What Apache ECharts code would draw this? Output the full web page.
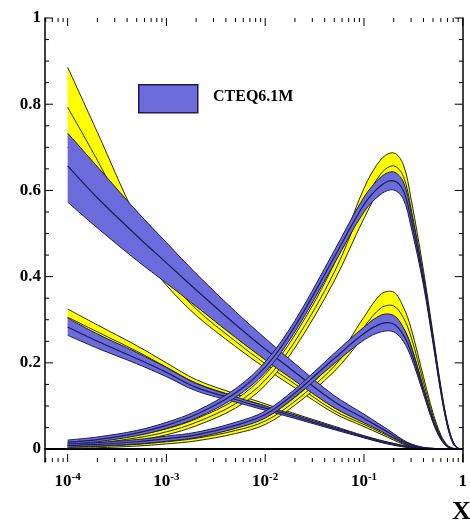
<!DOCTYPE html>
<html>
<head>
<meta charset="utf-8">
<script src="https://cdn.jsdelivr.net/npm/echarts@6/dist/echarts.min.js"></script>
<style>html,body{margin:0;padding:0;background:#fff}#chart{width:470px;height:524px}</style>
</head>
<body>
<div id="chart"></div>
<script>
// x grid (momentum fraction)
const xs = [1e-4, 2e-4, 5e-4, 1e-3, 2e-3, 5e-3, 0.01, 0.02, 0.05, 0.1, 0.15, 0.2, 0.25, 0.3, 0.4, 0.5, 0.6, 0.7, 0.8, 0.9, 1];

// gluon
const gBlueLo  = [0.573, 0.513, 0.438, 0.385, 0.331, 0.259, 0.207, 0.158, 0.096, 0.061, 0.041, 0.026, 0.015, 0.008, 0.002, 0, 0, 0, 0, 0, 0];
const gBlueMid = [0.657, 0.583, 0.495, 0.432, 0.369, 0.289, 0.232, 0.178, 0.11, 0.071, 0.048, 0.031, 0.018, 0.01, 0.003, 0.001, 0, 0, 0, 0, 0];
const gBlueHi  = [0.733, 0.655, 0.552, 0.479, 0.407, 0.319, 0.257, 0.198, 0.124, 0.081, 0.055, 0.036, 0.021, 0.012, 0.004, 0.002, 0, 0, 0, 0, 0];
const gYelLo   = [0.70, 0.605, 0.465, 0.38, 0.31, 0.238, 0.188, 0.142, 0.083, 0.052, 0.034, 0.021, 0.011, 0.006, 0.001, 0, 0, 0, 0, 0, 0];
const gYelMid  = [0.793, 0.67, 0.50, 0.402, 0.325, 0.25, 0.198, 0.151, 0.089, 0.057, 0.038, 0.024, 0.013, 0.007, 0.002, 0.001, 0, 0, 0, 0, 0];
const gYelHi   = [0.886, 0.735, 0.535, 0.425, 0.34, 0.262, 0.208, 0.16, 0.096, 0.062, 0.042, 0.027, 0.015, 0.009, 0.003, 0.001, 0, 0, 0, 0, 0];

// sea
const sBlueLo  = [0.264, 0.234, 0.198, 0.168, 0.135, 0.109, 0.09, 0.071, 0.045, 0.026, 0.015, 0.009, 0.005, 0.003, 0.001, 0, 0, 0, 0, 0, 0];
const sBlueMid = [0.283, 0.25, 0.21, 0.178, 0.143, 0.115, 0.095, 0.075, 0.048, 0.028, 0.017, 0.011, 0.007, 0.004, 0.001, 0, 0, 0, 0, 0, 0];
const sBlueHi  = [0.304, 0.267, 0.224, 0.189, 0.152, 0.121, 0.1, 0.079, 0.051, 0.03, 0.019, 0.013, 0.008, 0.005, 0.002, 0.001, 0, 0, 0, 0, 0];
const sYelLo   = [0.29, 0.258, 0.215, 0.18, 0.145, 0.116, 0.095, 0.074, 0.047, 0.027, 0.016, 0.01, 0.006, 0.003, 0.001, 0, 0, 0, 0, 0, 0];
const sYelMid  = [0.306, 0.272, 0.227, 0.19, 0.153, 0.122, 0.1, 0.078, 0.05, 0.029, 0.018, 0.011, 0.007, 0.004, 0.001, 0, 0, 0, 0, 0, 0];
const sYelHi   = [0.325, 0.288, 0.24, 0.2, 0.161, 0.128, 0.105, 0.082, 0.053, 0.031, 0.02, 0.013, 0.008, 0.005, 0.002, 0, 0, 0, 0, 0, 0];

// u valence
const uBlueLo  = [0.011, 0.017, 0.031, 0.048, 0.072, 0.12, 0.178, 0.272, 0.43, 0.55, 0.592, 0.601, 0.58, 0.515, 0.38, 0.245, 0.13, 0.052, 0.012, 0.001, 0];
const uBlueMid = [0.016, 0.022, 0.037, 0.055, 0.08, 0.13, 0.19, 0.285, 0.445, 0.567, 0.612, 0.622, 0.60, 0.532, 0.39, 0.252, 0.135, 0.055, 0.014, 0.0015, 0];
const uBlueHi  = [0.021, 0.028, 0.043, 0.062, 0.088, 0.14, 0.202, 0.298, 0.46, 0.584, 0.632, 0.643, 0.62, 0.55, 0.40, 0.259, 0.14, 0.058, 0.016, 0.002, 0];
const uYelLo   = [0.004, 0.009, 0.02, 0.033, 0.054, 0.095, 0.148, 0.235, 0.39, 0.535, 0.607, 0.628, 0.605, 0.535, 0.39, 0.252, 0.135, 0.056, 0.014, 0.0015, 0];
const uYelMid  = [0.009, 0.014, 0.026, 0.04, 0.062, 0.105, 0.16, 0.25, 0.41, 0.57, 0.64, 0.657, 0.633, 0.557, 0.402, 0.26, 0.14, 0.059, 0.015, 0.002, 0];
const uYelHi   = [0.014, 0.02, 0.032, 0.047, 0.07, 0.115, 0.173, 0.265, 0.43, 0.605, 0.673, 0.687, 0.66, 0.58, 0.415, 0.268, 0.146, 0.062, 0.017, 0.002, 0];

// d valence
const dBlueLo  = [0.004, 0.007, 0.012, 0.018, 0.027, 0.048, 0.072, 0.121, 0.198, 0.253, 0.272, 0.272, 0.25, 0.213, 0.128, 0.061, 0.022, 0.005, 0.001, 0, 0];
const dBlueMid = [0.008, 0.011, 0.017, 0.024, 0.033, 0.055, 0.08, 0.13, 0.21, 0.268, 0.291, 0.29, 0.265, 0.225, 0.135, 0.065, 0.024, 0.006, 0.001, 0, 0];
const dBlueHi  = [0.012, 0.015, 0.022, 0.03, 0.039, 0.062, 0.088, 0.139, 0.222, 0.283, 0.311, 0.31, 0.282, 0.238, 0.142, 0.069, 0.026, 0.007, 0.001, 0, 0];
const dYelLo   = [0.001, 0.003, 0.007, 0.012, 0.019, 0.036, 0.057, 0.102, 0.18, 0.26, 0.296, 0.3, 0.28, 0.24, 0.142, 0.07, 0.027, 0.007, 0.001, 0, 0];
const dYelMid  = [0.004, 0.006, 0.011, 0.017, 0.025, 0.043, 0.065, 0.111, 0.192, 0.283, 0.328, 0.332, 0.305, 0.26, 0.155, 0.077, 0.03, 0.008, 0.001, 0, 0];
const dYelHi   = [0.007, 0.01, 0.015, 0.022, 0.031, 0.05, 0.073, 0.12, 0.204, 0.306, 0.36, 0.364, 0.33, 0.28, 0.168, 0.084, 0.033, 0.009, 0.002, 0, 0];

// axis ticks
const xMajor = [1e-4, 1e-3, 1e-2, 1e-1, 1];
const xMinor = [6e-5, 7e-5, 8e-5, 9e-5,
  2e-4, 3e-4, 4e-4, 5e-4, 6e-4, 7e-4, 8e-4, 9e-4,
  2e-3, 3e-3, 4e-3, 5e-3, 6e-3, 7e-3, 8e-3, 9e-3,
  0.02, 0.03, 0.04, 0.05, 0.06, 0.07, 0.08, 0.09,
  0.2, 0.3, 0.4, 0.5, 0.6, 0.7, 0.8, 0.9];
const yMajor = [0, 0.2, 0.4, 0.6, 0.8, 1];
const yMinor = [0.05, 0.1, 0.15, 0.25, 0.3, 0.35, 0.45, 0.5, 0.55, 0.65, 0.7, 0.75, 0.85, 0.9, 0.95];

const serif = "'Liberation Serif', 'Times New Roman', serif";
const YELLOW = '#ffff00';
const BLUE = '#6b6bdc';
const EDGE_Y = '#2a2a00';
const EDGE_B = '#1c1c50';
const SM = 0.35;

// bezier control points for an open smooth curve through pixel points
function controls(p) {
  const n = p.length, c0 = [], c1 = [];
  for (let i = 0; i < n; i++) {
    if (i === 0 || i === n - 1) { c0[i] = p[i]; c1[i] = p[i]; continue; }
    const vx = (p[i + 1][0] - p[i - 1][0]) * SM;
    const vy = (p[i + 1][1] - p[i - 1][1]) * SM;
    let d0 = Math.hypot(p[i][0] - p[i - 1][0], p[i][1] - p[i - 1][1]);
    let d1 = Math.hypot(p[i + 1][0] - p[i][0], p[i + 1][1] - p[i][1]);
    const s = d0 + d1;
    if (s) { d0 /= s; d1 /= s; }
    c0[i] = [p[i][0] - vx * d0, p[i][1] - vy * d0];
    c1[i] = [p[i][0] + vx * d1, p[i][1] + vy * d1];
  }
  return [c0, c1];
}
const f = q => q[0].toFixed(2) + ' ' + q[1].toFixed(2);
function forward(p) {
  const [c0, c1] = controls(p);
  let s = '';
  for (let i = 0; i < p.length - 1; i++) s += ' C' + f(c1[i]) + ' ' + f(c0[i + 1]) + ' ' + f(p[i + 1]);
  return s;
}
function backward(p) {
  const [c0, c1] = controls(p);
  let s = '';
  for (let i = p.length - 1; i > 0; i--) s += ' C' + f(c0[i]) + ' ' + f(c1[i - 1]) + ' ' + f(p[i - 1]);
  return s;
}

// one custom series per band: fill between lo/hi, edges and central line
function band(name, lo, mid, hi, fill, edge, midWidth) {
  return {
    type: 'custom', name: name, clip: true,
    data: xs.map((x, i) => [x, lo[i], hi[i], mid[i]]),
    encode: { x: 0, y: [1, 2] },
    renderItem: function (params, api) {
      if (params.dataIndexInside !== 0) return null;
      const n = params.dataInsideLength;
      const pLo = [], pHi = [], pMid = [];
      for (let i = 0; i < n; i++) {
        const x = api.value(0, i);
        pLo.push(api.coord([x, api.value(1, i)]));
        pHi.push(api.coord([x, api.value(2, i)]));
        pMid.push(api.coord([x, api.value(3, i)]));
      }
      const area = 'M' + f(pLo[0]) + forward(pLo) + ' L' + f(pHi[n - 1]) + backward(pHi) + ' Z';
      const line = (pts, w) => ({
        type: 'path', shape: { pathData: 'M' + f(pts[0]) + forward(pts) },
        style: { fill: null, stroke: edge, lineWidth: w }
      });
      return {
        type: 'group',
        children: [
          { type: 'path', shape: { pathData: area }, style: { fill: fill, stroke: null } },
          line(pLo, 1), line(pHi, 1), line(pMid, midWidth)
        ]
      };
    }
  };
}

// tick marks on all four sides, placed through the axes
function tickSeries(values, len, dir) {
  return {
    type: 'custom', silent: true, clip: false,
    data: values.map(v => dir === 'x' ? [v, 0.5] : [1e-2, v]),
    encode: { x: 0, y: 1 },
    renderItem: function (params, api) {
      const cs = params.coordSys;
      const st = { stroke: '#000', lineWidth: 1 };
      if (dir === 'x') {
        const px = api.coord([api.value(0), 0.5])[0];
        const b = cs.y + cs.height, t = cs.y;
        return { type: 'group', children: [
          { type: 'line', shape: { x1: px, y1: b, x2: px, y2: b - len }, style: st },
          { type: 'line', shape: { x1: px, y1: t, x2: px, y2: t + len }, style: st }
        ] };
      }
      const py = api.coord([1e-2, api.value(1)])[1];
      const l = cs.x, r = cs.x + cs.width;
      return { type: 'group', children: [
        { type: 'line', shape: { x1: l, y1: py, x2: l + len, y2: py }, style: st },
        { type: 'line', shape: { x1: r, y1: py, x2: r - len, y2: py }, style: st }
      ] };
    }
  };
}

const zeroLine = {
  type: 'custom', silent: true, clip: true,
  data: [[1e-2, 0]],
  encode: { x: 0, y: 1 },
  renderItem: function (params, api) {
    const cs = params.coordSys;
    const py = api.coord([api.value(0), api.value(1)])[1];
    return { type: 'line', shape: { x1: cs.x, y1: py, x2: cs.x + cs.width, y2: py },
      style: { stroke: '#000', lineWidth: 1.5 } };
  }
};

const series = [
  band('gY', gYelLo, gYelMid, gYelHi, YELLOW, EDGE_Y, 1),
  band('sY', sYelLo, sYelMid, sYelHi, YELLOW, EDGE_Y, 1),
  band('uY', uYelLo, uYelMid, uYelHi, YELLOW, EDGE_Y, 1),
  band('dY', dYelLo, dYelMid, dYelHi, YELLOW, EDGE_Y, 1),
  band('gB', gBlueLo, gBlueMid, gBlueHi, BLUE, EDGE_B, 1.2),
  band('sB', sBlueLo, sBlueMid, sBlueHi, BLUE, EDGE_B, 1.2),
  band('uB', uBlueLo, uBlueMid, uBlueHi, BLUE, EDGE_B, 1.2),
  band('dB', dBlueLo, dBlueMid, dBlueHi, BLUE, EDGE_B, 1.2),
  zeroLine,
  tickSeries(xMajor, 8, 'x'),
  tickSeries(xMinor, 4, 'x'),
  tickSeries(yMajor, 8, 'y'),
  tickSeries(yMinor, 4, 'y')
];

const xMin = 5.9e-5;
const frame = { show: true, lineStyle: { color: '#000', width: 1.5 } };

const myChart = echarts.init(document.getElementById('chart'));
const option = {
  backgroundColor: '#fff',
  animation: false,
  grid: { left: 45, right: 0, top: 18, bottom: 62 },
  xAxis: [
    {
      type: 'log', position: 'bottom', min: xMin, max: 1,
      axisLine: frame, axisTick: { show: false }, splitLine: { show: false },
      axisLabel: {
        customValues: xMajor, margin: 10, color: '#000',
        formatter: function (v) {
          const e = Math.round(Math.log10(v));
          return e === 0 ? '{b|1}' : '{b|10}{s|' + e + '}';
        },
        rich: {
          b: { fontFamily: serif, fontWeight: 'bold', fontSize: 17, color: '#000', lineHeight: 20 },
          s: { fontFamily: serif, fontWeight: 'bold', fontSize: 11, color: '#000', verticalAlign: 'top', lineHeight: 12 }
        }
      }
    },
    {
      type: 'log', position: 'top', min: xMin, max: 1,
      axisLine: frame, axisTick: { show: false }, axisLabel: { show: false }, splitLine: { show: false }
    }
  ],
  yAxis: [
    {
      type: 'value', position: 'left', min: -0.03, max: 1,
      axisLine: frame, axisTick: { show: false }, splitLine: { show: false },
      axisLabel: {
        customValues: yMajor, margin: 4, color: '#000',
        fontFamily: serif, fontWeight: 'bold', fontSize: 17
      }
    },
    {
      type: 'value', position: 'right', min: -0.03, max: 1,
      axisLine: frame, axisTick: { show: false }, axisLabel: { show: false }, splitLine: { show: false }
    }
  ],
  graphic: [
    {
      type: 'rect', left: 138, top: 84,
      shape: { width: 59, height: 28 },
      style: { fill: BLUE, stroke: EDGE_B, lineWidth: 1.5 }
    },
    {
      type: 'text', left: 213, top: 89,
      style: { text: 'CTEQ6.1M', font: 'bold 16px ' + serif, fill: '#000' }
    },
    {
      type: 'text', left: 452, top: 499,
      style: { text: 'X', font: 'bold 26px ' + serif, fill: '#000' }
    }
  ],
  series: series
};
myChart.setOption(option);
</script>
</body>
</html>
